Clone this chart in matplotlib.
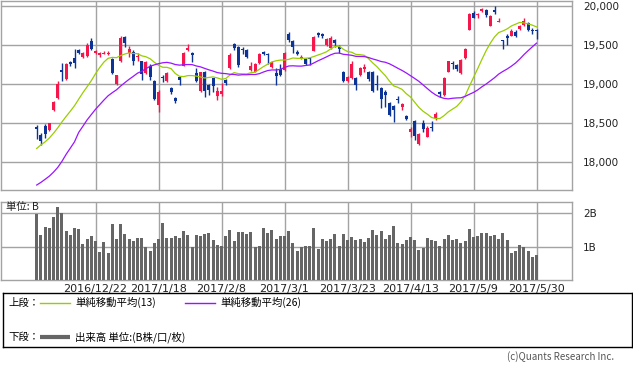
import numpy as np
import pandas as pd
import matplotlib
matplotlib.use("Agg")
import matplotlib.pyplot as plt

plt.rcParams['font.family'] = ['Noto Sans CJK JP', 'DejaVu Sans']

# 日経平均 日足 2016/12/2 - 2017/5/30
dates = [
    "2016/12/2", "2016/12/5", "2016/12/6", "2016/12/7", "2016/12/8", "2016/12/9",
    "2016/12/12", "2016/12/13", "2016/12/14", "2016/12/15", "2016/12/16",
    "2016/12/19", "2016/12/20", "2016/12/21", "2016/12/22",
    "2016/12/26", "2016/12/27", "2016/12/28", "2016/12/29", "2016/12/30",
    "2017/1/4", "2017/1/5", "2017/1/6", "2017/1/10", "2017/1/11", "2017/1/12",
    "2017/1/13", "2017/1/16", "2017/1/17", "2017/1/18", "2017/1/19", "2017/1/20",
    "2017/1/23", "2017/1/24", "2017/1/25", "2017/1/26", "2017/1/27",
    "2017/1/30", "2017/1/31", "2017/2/1", "2017/2/2", "2017/2/3",
    "2017/2/6", "2017/2/7", "2017/2/8", "2017/2/9", "2017/2/10",
    "2017/2/13", "2017/2/14", "2017/2/15", "2017/2/16", "2017/2/17",
    "2017/2/20", "2017/2/21", "2017/2/22", "2017/2/23", "2017/2/24",
    "2017/2/27", "2017/2/28", "2017/3/1", "2017/3/2", "2017/3/3",
    "2017/3/6", "2017/3/7", "2017/3/8", "2017/3/9", "2017/3/10",
    "2017/3/13", "2017/3/14", "2017/3/15", "2017/3/16", "2017/3/17",
    "2017/3/21", "2017/3/22", "2017/3/23", "2017/3/24",
    "2017/3/27", "2017/3/28", "2017/3/29", "2017/3/30", "2017/3/31",
    "2017/4/3", "2017/4/4", "2017/4/5", "2017/4/6", "2017/4/7",
    "2017/4/10", "2017/4/11", "2017/4/12", "2017/4/13", "2017/4/14",
    "2017/4/17", "2017/4/18", "2017/4/19", "2017/4/20", "2017/4/21",
    "2017/4/24", "2017/4/25", "2017/4/26", "2017/4/27", "2017/4/28",
    "2017/5/1", "2017/5/2", "2017/5/8", "2017/5/9", "2017/5/10",
    "2017/5/11", "2017/5/12", "2017/5/15", "2017/5/16", "2017/5/17",
    "2017/5/18", "2017/5/19", "2017/5/22", "2017/5/23", "2017/5/24",
    "2017/5/25", "2017/5/26", "2017/5/29", "2017/5/30",
]

opens = [
    18450, 18346, 18465, 18410, 18666, 18816, 19180, 19060, 19286, 19337,
    19436, 19342, 19363, 19555, 19393, 19370, 19390, 19390, 19316, 19000,
    19298, 19605, 19393, 19415, 19340, 19300, 19137, 19231, 19038, 18730,
    19090, 19038, 18944, 18825, 19094, 19235, 19436, 19395, 19137, 18910,
    19158, 18987, 19073, 18850, 18870, 19050, 19200, 19513, 19479, 19440,
    19436, 19179, 19158, 19265, 19406, 19385, 19222, 19137, 19188, 19179,
    19641, 19555, 19415, 19329, 19316, 19337, 19427, 19660, 19641, 19500,
    19457, 19564, 19479, 19158, 19043, 19073, 19073, 19115, 19190, 19158,
    19158, 19000, 18944, 18902, 18761, 18718, 18800, 18700, 18590, 18389,
    18530, 18231, 18496, 18325, 18445, 18560, 18893, 18859, 19158, 19265,
    19244, 19137, 19329, 19692, 19915, 19885, 19940, 19949, 19743, 19949,
    19799, 19564, 19610, 19615, 19671, 19700, 19756, 19786, 19692, 19690,
]
highs = [
    18480, 18376, 18483, 18505, 18782, 19038, 19273, 19273, 19300, 19444,
    19450, 19410, 19520, 19585, 19430, 19410, 19420, 19420, 19330, 19120,
    19615, 19615, 19487, 19436, 19393, 19300, 19290, 19250, 19050, 18923,
    19115, 19150, 18960, 18830, 19100, 19410, 19510, 19415, 19200, 19158,
    19170, 19000, 19080, 18966, 19017, 19060, 19393, 19520, 19490, 19480,
    19450, 19280, 19265, 19400, 19420, 19400, 19290, 19201, 19260, 19406,
    19668, 19570, 19430, 19370, 19330, 19350, 19620, 19670, 19650, 19590,
    19610, 19580, 19500, 19170, 19100, 19290, 19085, 19220, 19250, 19170,
    19170, 19115, 18960, 18920, 18770, 18730, 18840, 18760, 18600, 18450,
    18540, 18370, 18540, 18460, 18520, 18640, 18915, 19090, 19295, 19290,
    19260, 19320, 19460, 19906, 19930, 19910, 19980, 19960, 19880, 19998,
    19840, 19570, 19640, 19701, 19690, 19760, 19840, 19800, 19715, 19700,
]
lows = [
    18300, 18218, 18303, 18400, 18658, 18808, 19038, 19055, 19230, 19201,
    19380, 19330, 19350, 19436, 19380, 19350, 19380, 19370, 19130, 18990,
    19277, 19480, 19350, 19244, 19300, 19050, 19130, 19050, 18800, 18645,
    19030, 19030, 18870, 18750, 18990, 19230, 19420, 19286, 19030, 18900,
    18838, 18859, 18902, 18795, 18850, 18990, 19190, 19440, 19220, 19380,
    19330, 19170, 19150, 19260, 19370, 19260, 19210, 18987, 19100, 19170,
    19543, 19393, 19370, 19320, 19244, 19240, 19420, 19600, 19590, 19490,
    19450, 19480, 19400, 19020, 19020, 19060, 18923, 19100, 19160, 19040,
    18900, 18923, 18688, 18710, 18590, 18517, 18760, 18670, 18540, 18325,
    18280, 18224, 18380, 18320, 18400, 18540, 18830, 18850, 19150, 19190,
    19170, 19130, 19320, 19690, 19840, 19850, 19920, 19860, 19740, 19900,
    19790, 19444, 19500, 19610, 19598, 19690, 19740, 19680, 19640, 19573,
]
closes = [
    18426, 18274, 18360, 18497, 18765, 18996, 19155, 19250, 19253, 19273,
    19401, 19391, 19494, 19444, 19427, 19396, 19403, 19401, 19145, 19114,
    19594, 19520, 19454, 19301, 19364, 19134, 19287, 19095, 18813, 18894,
    19072, 19137, 18891, 18787, 19057, 19402, 19467, 19368, 19041, 19148,
    18914, 18918, 18976, 18910, 18907, 19007, 19378, 19459, 19238, 19437,
    19347, 19234, 19251, 19381, 19379, 19371, 19283, 19107, 19119, 19393,
    19564, 19469, 19379, 19344, 19254, 19318, 19604, 19633, 19609, 19577,
    19590, 19521, 19455, 19041, 19085, 19262, 18985, 19202, 19217, 19063,
    18909, 18983, 18810, 18861, 18597, 18664, 18797, 18747, 18552, 18426,
    18335, 18355, 18418, 18432, 18430, 18620, 18875, 19079, 19289, 19251,
    19197, 19310, 19445, 19895, 19843, 19900, 19961, 19883, 19869, 19919,
    19814, 19553, 19591, 19678, 19613, 19742, 19813, 19687, 19683, 19677,
]
# 移動平均の計算用 (2016/10/26 - 12/1 の終値)
prev_closes = [
    17391, 17336, 17446, 17425, 17442, 17134, 16905, 17177, 17171, 16251,
    17344, 17374, 17672, 17668, 17862, 17862, 17967, 18106, 18162, 18333,
    18381, 18356, 18307, 18308, 18513,
]
# 出来高 (B株)
volumes = [
    1.98, 1.36, 1.59, 1.56, 1.88, 2.18, 2.00, 1.48, 1.36, 1.56,
    1.53, 1.10, 1.25, 1.33, 1.19, 0.87, 1.15, 0.84, 1.69, 1.25,
    1.69, 1.39, 1.25, 1.19, 1.26, 1.26, 1.00, 0.89, 1.12, 1.25,
    1.72, 1.26, 1.26, 1.33, 1.26, 1.48, 1.36, 1.00, 1.36, 1.33,
    1.39, 1.42, 1.22, 1.07, 1.04, 1.33, 1.51, 1.19, 1.45, 1.45,
    1.39, 1.45, 1.02, 1.04, 1.57, 1.42, 1.51, 1.25, 1.33, 1.33,
    1.48, 1.13, 0.89, 1.02, 1.04, 1.04, 1.57, 0.95, 1.25, 1.19,
    1.25, 1.39, 1.04, 1.39, 1.22, 1.30, 1.22, 1.25, 1.16, 1.27,
    1.51, 1.36, 1.48, 1.25, 1.36, 1.63, 1.13, 1.10, 1.22, 1.30,
    1.22, 0.92, 0.98, 1.27, 1.22, 1.19, 1.04, 1.25, 1.36, 1.22,
    1.25, 1.13, 1.19, 1.54, 1.30, 1.33, 1.42, 1.42, 1.33, 1.36,
    1.25, 1.42, 1.22, 0.83, 0.89, 1.07, 1.01, 0.89, 0.72, 0.77,
]

tick_dates = ["2016/12/22", "2017/1/18", "2017/2/8", "2017/3/1",
              "2017/3/23", "2017/4/13", "2017/5/9", "2017/5/30"]
price_ticks = [18000, 18500, 19000, 19500, 20000]
vol_ticks = [1, 2]

RED = "#f5164b"
BLUE = "#0c3497"
GREEN = "#9acd00"
PURPLE = "#9a14ff"
GRID = "#a3a3a3"
VOLC = "#666666"

W, H = 633, 369


def px_box(l, t, r, b):
    return [l / W, 1 - b / H, (r - l) / W, (b - t) / H]


def main():
    n = len(closes)
    x = np.arange(n)
    o = np.array(opens, float)
    h = np.array(highs, float)
    lo = np.array(lows, float)
    c = np.array(closes, float)

    allc = pd.Series(prev_closes + closes, dtype=float)
    ma13 = allc.rolling(13).mean().to_numpy()[-n:]
    ma26 = allc.rolling(26).mean().to_numpy()[-n:]

    fig = plt.figure(figsize=(W / 100, H / 100), dpi=100)
    ax = fig.add_axes(px_box(0.5, 1, 572, 190))
    axv = fig.add_axes(px_box(0.5, 201.7, 572, 280))

    tick_pos = [dates.index(d) for d in tick_dates]
    xl = ((0.5 - 36.7) / 4.2, (572 - 36.7) / 4.2)

    for a in (ax, axv):
        a.set_xlim(*xl)
        a.set_xticks(tick_pos)
        a.grid(True, color=GRID, lw=1.0)
        a.set_axisbelow(True)
        for s in a.spines.values():
            s.set_color(GRID)
            s.set_linewidth(1.0)
        a.yaxis.tick_right()
        a.tick_params(length=0, labelsize=7.5, colors="#222222", pad=8)

    # ローソク足
    up = c >= o
    cols = np.where(up, RED, BLUE)
    ax.vlines(x, lo, h, colors=cols, lw=1.0, zorder=3)
    body_lo = np.minimum(o, c)
    body_h = np.maximum(np.abs(c - o), 10)
    ax.bar(x, body_h, bottom=body_lo, width=0.72, color=cols, zorder=4, linewidth=0)

    ax.plot(x, ma13, color=GREEN, lw=0.9, zorder=5)
    ax.plot(x, ma26, color=PURPLE, lw=0.9, zorder=5)

    ax.set_ylim(17641, 20064)
    ax.set_yticks(price_ticks)
    ax.set_yticklabels([f"{v:,}" for v in price_ticks], family="DejaVu Sans")
    ax.set_xticklabels([])

    # 出来高
    axv.bar(x, volumes, width=0.72, color=VOLC, linewidth=0, zorder=3)
    axv.set_ylim(0.038, 2.34)
    axv.set_yticks(vol_ticks)
    axv.set_yticklabels([f"{v}B" for v in vol_ticks], family="DejaVu Sans")
    axv.set_xticklabels(tick_dates, family="DejaVu Sans", fontsize=8)
    axv.tick_params(axis="x", pad=3)
    axv.text(5 / 571.5, 0.93, "単位: B", transform=axv.transAxes,
             fontsize=7.5, ha="left", va="center", color="#222222")

    # 凡例
    lg = fig.add_axes(px_box(3, 293, 632, 347))
    lg.set_xlim(0, 629)
    lg.set_ylim(54, 0)
    lg.set_xticks([])
    lg.set_yticks([])
    for s in lg.spines.values():
        s.set_color("black")
        s.set_linewidth(1.0)
    fs = 7.5
    lg.text(5, 9.5, "上段：", fontsize=fs, va="center", ha="left")
    lg.plot([37, 67], [9.5, 9.5], color=GREEN, lw=1.0)
    lg.text(72, 9.5, "単純移動平均(13)", fontsize=fs, va="center", ha="left")
    lg.plot([182, 212], [9.5, 9.5], color=PURPLE, lw=1.0)
    lg.text(217, 9.5, "単純移動平均(26)", fontsize=fs, va="center", ha="left")
    lg.text(5, 44, "下段：", fontsize=fs, va="center", ha="left")
    lg.plot([37, 67], [44, 44], color=VOLC, lw=3.0, solid_capstyle="butt")
    lg.text(72, 44, "出来高 単位:(B株/口/枚)", fontsize=fs, va="center", ha="left")

    fig.text(614 / W, 1 - 357 / H, "(c)Quants Research Inc.", ha="right",
             va="center", fontsize=7, color="#555555")

    fig.savefig("out.png", dpi=100)


if __name__ == "__main__":
    main()
